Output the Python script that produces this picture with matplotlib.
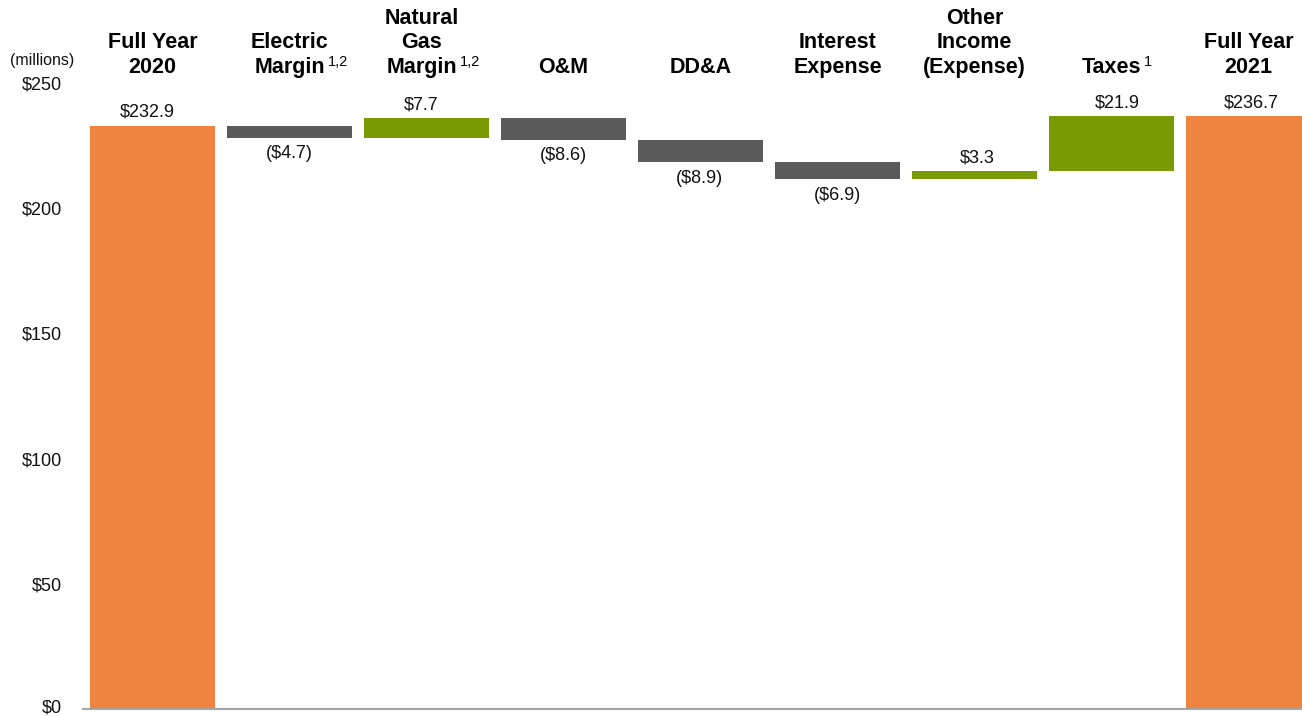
import matplotlib
matplotlib.use("Agg")
import matplotlib.pyplot as plt
from matplotlib.transforms import blended_transform_factory, ScaledTranslation

plt.rcParams['font.family'] = ['Liberation Sans', 'DejaVu Sans']

# ---- data ----
header_lines = [["Full Year", "2020"], ["Electric", "Margin"], ["Natural", "Gas", "Margin"],
                ["O&M"], ["DD&A"], ["Interest", "Expense"], ["Other", "Income", "(Expense)"],
                ["Taxes"], ["Full Year", "2021"]]
superscripts = ["", "1,2", "1,2", "", "", "", "", "1", ""]
changes = [232.9, -4.7, 7.7, -8.6, -8.9, -6.9, 3.3, 21.9, 236.7]
kinds = ["total", "delta", "delta", "delta", "delta", "delta", "delta", "delta", "total"]
value_labels = ["$232.9", "($4.7)", "$7.7", "($8.6)", "($8.9)", "($6.9)", "$3.3", "$21.9", "$236.7"]
yticks = [0, 50, 100, 150, 200, 250]
ytick_labels = ["$0", "$50", "$100", "$150", "$200", "$250"]

ORANGE = "#EE8440"
GRAY = "#5A5A5A"
GREEN = "#7A9A01"

W, H = 1302, 716
fig = plt.figure(figsize=(W / 100, H / 100), dpi=100)
ax = fig.add_axes([83 / W, 7 / H, (W - 83) / W, (709 - 83) / H])

# small horizontal text nudges (pixels) to mimic the original text boxes
header_dx_px = [0, 0, -5, 0, 0, 0, 0, 0, 0]
value_dx_px = [-5, 0, -5, 0, -1.5, 0, 3, 6, 3]

running = 0.0
for i, (c, k) in enumerate(zip(changes, kinds)):
    if k == "total":
        bottom, height, color = 0, c, ORANGE
        running = c
        top, low = c, 0
    else:
        start = running
        running = running + c
        bottom = min(start, running)
        height = abs(c)
        color = GREEN if c > 0 else GRAY
        top, low = max(start, running), bottom
    ax.bar(i, height, bottom=bottom, width=0.912, color=color, linewidth=0)
    dx = value_dx_px[i] * 0.72
    if c >= 0:
        ax.annotate(value_labels[i], xy=(i, top), xytext=(dx, 6.5), textcoords="offset points",
                    ha="center", va="baseline", fontsize=13, color="#111111")
    else:
        ax.annotate(value_labels[i], xy=(i, low), xytext=(dx, -5.5), textcoords="offset points",
                    ha="center", va="top", fontsize=13, color="#111111")

ax.set_xlim(-0.507, 8.39)
ax.set_ylim(0, 250)
for s in ["left", "right", "top"]:
    ax.spines[s].set_visible(False)
ax.spines["bottom"].set_color("#A6A6A6")
ax.spines["bottom"].set_linewidth(1.5)
ax.set_xticks([])
ax.set_yticks(yticks)
ax.set_yticklabels(ytick_labels)
ax.tick_params(axis="y", length=0, pad=15, labelsize=13, labelcolor="#111111")
# keep the $0 label inside the image
lbl0 = ax.get_yticklabels()[0]
lbl0.set_transform(lbl0.get_transform() + ScaledTranslation(0, 3 / 100, fig.dpi_scale_trans))

# headers
tr = blended_transform_factory(ax.transData, fig.transFigure)
baselines_px = [23.5, 48.3, 72.7]
for i, lines in enumerate(header_lines):
    n = len(lines)
    ys = baselines_px[3 - n:]
    for j, line in enumerate(lines):
        t = ax.annotate(line, xy=(i, 1 - ys[j] / H), xycoords=tr,
                        xytext=(header_dx_px[i] * 0.72, 0), textcoords="offset points",
                        ha="center", va="baseline", fontsize=15.5, fontweight="bold",
                        color="black")
        if j == n - 1 and superscripts[i]:
            ax.annotate(superscripts[i], xy=(1, 1), xycoords=t, xytext=(2, 1.5),
                        textcoords="offset points", ha="left", va="top", fontsize=10.5,
                        color="black")

fig.text(42 / W, 1 - 60 / H, "(millions)", ha="center", va="center", fontsize=11.5,
         color="#111111")

fig.savefig("out.png", dpi=100)
